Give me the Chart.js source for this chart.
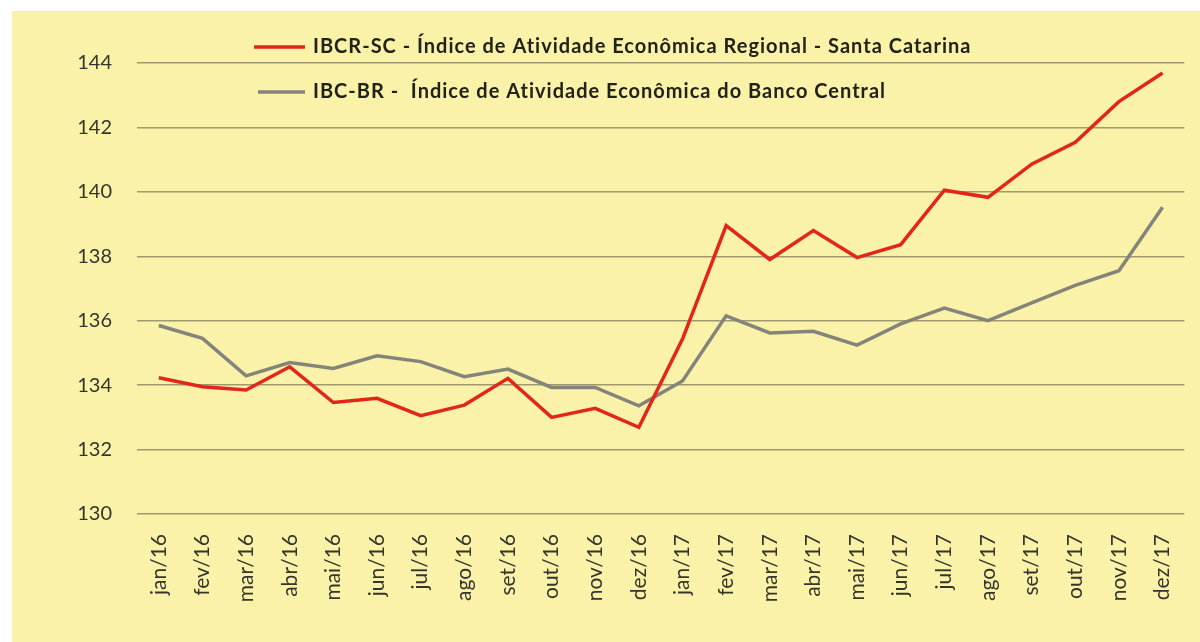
<!DOCTYPE html>
<html>
<head>
<meta charset="utf-8">
<script src="https://cdn.jsdelivr.net/npm/chart.js@4"></script>
<style>
  html, body { margin: 0; padding: 0; background: #ffffff; }
  #box {
    position: absolute; left: 12px; top: 11px;
    width: 1188px; height: 631px;
    background: #faf2a9;
  }
  canvas { display: block; }
</style>
</head>
<body>
<div id="box"><canvas id="chart" width="1188" height="631"></canvas></div>
<script>
"use strict";

// months on the x axis
var months = ["jan/16", "fev/16", "mar/16", "abr/16", "mai/16", "jun/16",
              "jul/16", "ago/16", "set/16", "out/16", "nov/16", "dez/16",
              "jan/17", "fev/17", "mar/17", "abr/17", "mai/17", "jun/17",
              "jul/17", "ago/17", "set/17", "out/17", "nov/17", "dez/17"];

// IBCR-SC (red)
var ibcrSC = [134.23, 133.95, 133.85, 134.57, 133.46, 133.59, 133.05, 133.38,
              134.21, 133.00, 133.28, 132.69, 135.43, 138.95, 137.90, 138.80,
              137.96, 138.36, 140.05, 139.83, 140.86, 141.54, 142.80, 143.69];

// IBC-BR (gray)
var ibcBR = [135.85, 135.45, 134.29, 134.70, 134.52, 134.91, 134.73, 134.26,
             134.50, 133.93, 133.93, 133.36, 134.13, 136.15, 135.62, 135.67,
             135.24, 135.90, 136.39, 136.00, 136.55, 137.10, 137.55, 139.52];

var seriesNames = [
    "IBCR-SC - Índice de Atividade Econômica Regional - Santa Catarina",
    "IBC-BR -  Índice de Atividade Econômica do Banco Central"
];

var yMin = 130;
var yMax = 144;
var yStep = 2;

var RED = "#e3261c";
var GRAY = "#85847a";
var TEXT = "#35352c";
var FONT = "Lato, 'Open Sans', sans-serif";

// legend sits inside the plot, top left, two rows
var legendPlugin = {
    id: "insideLegend",
    afterDraw: function(chart) {
        var ctx = chart.ctx;
        var rows = [{ x0: 242, y: 36 }, { x0: 246, y: 81 }];
        ctx.save();
        ctx.font = "bold 20px " + FONT;
        ctx.letterSpacing = "1px";
        ctx.textBaseline = "middle";
        ctx.textAlign = "left";
        chart.data.datasets.forEach(function(ds, i) {
            var r = rows[i];
            ctx.strokeStyle = ds.borderColor;
            ctx.lineWidth = 3.5;
            ctx.beginPath();
            ctx.moveTo(r.x0, r.y);
            ctx.lineTo(293, r.y);
            ctx.stroke();
            ctx.fillStyle = "#222218";
            ctx.fillText(ds.label, 301, r.y);
        });
        ctx.restore();
    }
};

function init_chart() {
    var chart_context = document.getElementById("chart").getContext("2d");
    new Chart(chart_context, {
        type: "line",
        data: {
            labels: months,
            datasets: [{
                label: seriesNames[0],
                data: ibcrSC,
                borderColor: RED,
                borderWidth: 3.5,
                pointRadius: 0,
                tension: 0,
                fill: false
            }, {
                label: seriesNames[1],
                data: ibcBR,
                borderColor: GRAY,
                borderWidth: 3.5,
                pointRadius: 0,
                tension: 0,
                fill: false
            }]
        },
        options: {
            responsive: false,
            animation: false,
            devicePixelRatio: 1,
            layout: { padding: { top: 52, right: 12, bottom: 8, left: 0 } },
            plugins: {
                legend: { display: false },
                tooltip: { enabled: false }
            },
            scales: {
                x: {
                    type: "category",
                    offset: true,
                    grid: { display: false },
                    border: { display: false },
                    ticks: {
                        minRotation: 90,
                        maxRotation: 90,
                        autoSkip: false,
                        padding: 12,
                        color: TEXT,
                        font: { family: FONT, size: 21 }
                    },
                    afterFit: function(s) { s.height = 120; }
                },
                y: {
                    min: yMin,
                    max: yMax,
                    grid: {
                        color: "rgba(110,105,80,0.65)",
                        lineWidth: 1.5,
                        drawTicks: false
                    },
                    border: { display: false },
                    ticks: {
                        stepSize: yStep,
                        padding: 25,
                        color: TEXT,
                        font: { family: FONT, size: 20 }
                    },
                    afterFit: function(s) { s.width = 125; }
                }
            }
        },
        plugins: [legendPlugin]
    });
}

window.addEventListener("load", function() {
    init_chart();
});
</script>
</body>
</html>
